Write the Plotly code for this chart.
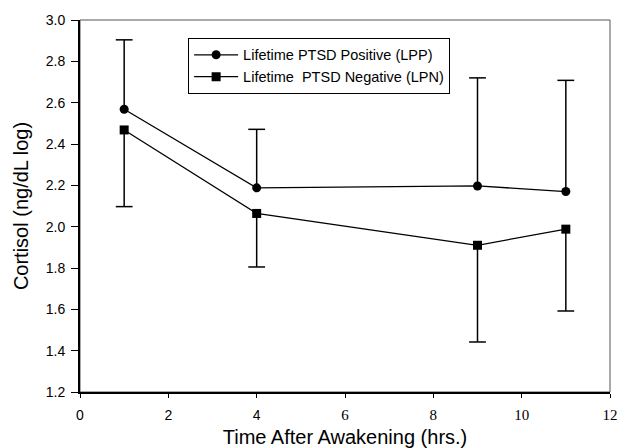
import plotly.graph_objects as go

# ---- data ----
hours = [1, 4, 9, 11]
lpp_mean = [2.568, 2.188, 2.197, 2.170]
lpp_err_up = [0.336, 0.283, 0.523, 0.538]
lpn_mean = [2.468, 2.064, 1.910, 1.988]
lpn_err_down = [0.371, 0.259, 0.468, 0.396]

lpp_name = "Lifetime PTSD Positive (LPP)"
lpn_name = "Lifetime  PTSD Negative (LPN)"

x_tickvals = [0, 2, 4, 6, 8, 10, 12]
y_tickvals = [1.2, 1.4, 1.6, 1.8, 2.0, 2.2, 2.4, 2.6, 2.8, 3.0]

FONT = "Arial, 'Liberation Sans', sans-serif"
SERIF = "Liberation Serif,Times New Roman,serif"

fig = go.Figure()

fig.add_trace(go.Scatter(
    x=hours, y=lpp_mean, mode="lines+markers", name=lpp_name,
    line=dict(color="black", width=1.3),
    marker=dict(symbol="circle", size=9, color="black"),
    error_y=dict(type="data", symmetric=False, array=lpp_err_up,
                 arrayminus=[0] * len(hours), color="black",
                 thickness=1.5, width=0),
))
fig.add_trace(go.Scatter(
    x=hours, y=lpn_mean, mode="lines+markers", name=lpn_name,
    line=dict(color="black", width=1.3),
    marker=dict(symbol="square", size=9, color="black"),
    error_y=dict(type="data", symmetric=False, array=[0] * len(hours),
                 arrayminus=lpn_err_down, color="black",
                 thickness=1.5, width=0),
))

# caps at the ends of the error bars
fig.add_trace(go.Scatter(
    x=hours, y=[m + e for m, e in zip(lpp_mean, lpp_err_up)],
    mode="markers", showlegend=False, hoverinfo="skip",
    marker=dict(symbol="line-ew", size=12, line=dict(color="black", width=1.5)),
))
fig.add_trace(go.Scatter(
    x=hours, y=[m - e for m, e in zip(lpn_mean, lpn_err_down)],
    mode="markers", showlegend=False, hoverinfo="skip",
    marker=dict(symbol="line-ew", size=12, line=dict(color="black", width=1.5)),
))

x_ticktext = []
for v in x_tickvals:
    if v >= 6:
        x_ticktext.append(f'<span style="font-family:{SERIF};font-size:15px">{v}</span>')
    else:
        x_ticktext.append(str(v))

fig.update_layout(
    width=619, height=448,
    margin=dict(l=80, r=9, t=20, b=56),
    plot_bgcolor="white", paper_bgcolor="white",
    font=dict(family=FONT, color="black", size=14),
    showlegend=True,
    legend=dict(
        x=0.204, y=0.952, xanchor="left", yanchor="top",
        bordercolor="black", borderwidth=1, bgcolor="white",
        font=dict(family=FONT, size=14.5, color="black"),
        tracegroupgap=0, itemwidth=44,
    ),
    xaxis=dict(
        range=[0, 12], tickvals=x_tickvals, ticktext=x_ticktext,
        automargin=False,
        showgrid=False, zeroline=False,
        showline=True, linecolor="black", linewidth=2,
        ticks="outside", ticklen=4, tickwidth=1, tickcolor="black",
        ticklabelstandoff=5,
        tickfont=dict(family=FONT, size=14),
        title=dict(text="Time After Awakening (hrs.)",
                   font=dict(family=FONT, size=20), standoff=8),
    ),
    yaxis=dict(
        range=[1.2, 3.0], tickvals=y_tickvals, tickformat=".1f",
        automargin=False,
        showgrid=False, zeroline=False,
        showline=True, linecolor="black", linewidth=2,
        ticks="outside", ticklen=7, tickwidth=1, tickcolor="black",
        ticklabelstandoff=3,
        tickfont=dict(family=FONT, size=14),
        title=dict(text="Cortisol (ng/dL log)",
                   font=dict(family=FONT, size=20), standoff=12),
    ),
    shapes=[dict(type="rect", xref="paper", yref="paper",
                 x0=0, x1=1, y0=0, y1=1, layer="below",
                 line=dict(color="#555555", width=1))],
)

fig.write_html("out.html", config={"displayModeBar": False},
               post_script="document.body.style.margin='0';")
